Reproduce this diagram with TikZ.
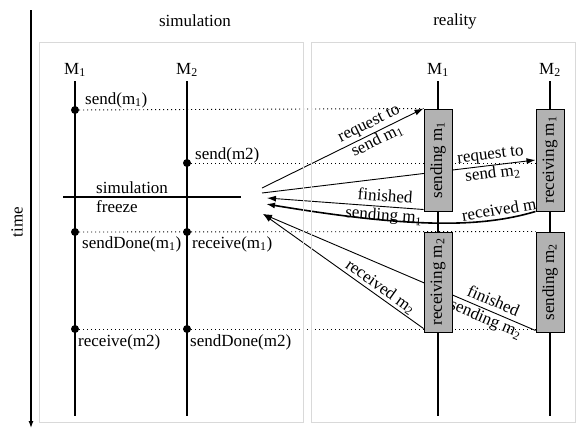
\documentclass[tikz,border=0pt]{standalone}
\usepackage{fontspec}
\setmainfont{Liberation Serif}
\usetikzlibrary{arrows.meta,backgrounds}

\begin{document}
\begin{tikzpicture}[x=1pt,y=-1pt,font=\fontsize{17}{19}\selectfont,
  frame/.style={draw=black!15,line width=0.8pt},
  event/.style={circle,fill,inner sep=0pt,minimum size=8pt},
  msg/.style={dash pattern=on 1pt off 3pt,line width=0.9pt},
  activity/.style={draw,fill=black!30,line width=1pt,minimum width=28pt,inner sep=0pt},
  call/.style={line width=0.9pt,-{Latex[length=9pt,width=6pt]}},
  reply/.style={line width=0.9pt,{Latex[length=9pt,width=6pt]}-}]
  \useasboundingbox (0,0) rectangle (579,429);
  \draw[frame] (39,42) rectangle (303,422);
  \draw[frame] (311,42) rectangle (575,422);
  \node (simtitle) at (195,21) {simulation};
  \node (realtitle) at (455,21) {reality};
  \coordinate (timetop) at (31,10);
  \coordinate (timebot) at (31,428);
  \draw[line width=1.2pt,-{Latex[length=7pt,width=5pt]}] (timetop) -- (timebot);
  \node[rotate=90] (time) at (17,222) {time};
  \foreach \name/\x/\i/\w in {simA/75/1/2pt,simB/187/2/2pt,realA/438/1/1.5pt,realB/550/2/1.5pt}{
    \node[inner sep=0pt] (\name) at (\x,70) {M\textsubscript{\i}};
    \coordinate (\name end) at (\x,416);
    \draw[line width=\w] (\x,81) -- (\name end);
  }
  \node[activity,minimum height=102pt] (sendingA) at (438,160) {\rotatebox{90}{sending m\textsubscript{1}}};
  \node[activity,minimum height=102pt] (receivingA) at (550,160) {\rotatebox{90}{receiving m\textsubscript{1}}};
  \node[activity,minimum height=100pt] (receivingB) at (438,282) {\rotatebox{90}{receiving m\textsubscript{2}}};
  \node[activity,minimum height=100pt] (sendingB) at (550,282) {\rotatebox{90}{sending m\textsubscript{2}}};
  \foreach \name/\x/\y in {sendA/75/110,sendB/187/163,doneA/75/232,recvA/187/232,recvB/75/329,doneB/187/329}{
    \node[event] (\name) at (\x,\y) {};
  }
  \node[anchor=west,inner sep=0pt] (sendAtext) at (85,100) {send(m\textsubscript{1})};
  \node[anchor=west,inner sep=0pt] (sendBtext) at (195,155) {send(m2)};
  \node[anchor=west,inner sep=0pt] (doneAtext) at (82,244) {sendDone(m\textsubscript{1})};
  \node[anchor=west,inner sep=0pt] (recvAtext) at (192,244) {receive(m\textsubscript{1})};
  \node[anchor=west,inner sep=0pt] (recvBtext) at (78,342) {receive(m2)};
  \node[anchor=west,inner sep=0pt] (doneBtext) at (190,342) {sendDone(m2)};
  \coordinate (freezeL) at (63,197);
  \coordinate (freezeR) at (241,197);
  \draw[line width=2.5pt] (freezeL) -- (freezeR);
  \node[anchor=west,align=left,inner sep=0pt] (freeze) at (96,197) {simulation\\freeze};
  \foreach \name/\x/\y in {hubA/262/188,hubB/262/193,hubC/267/198,hubD/266/204,hubE/263/214}{
    \coordinate (\name) at (\x,\y);
  }
  \begin{pgfonlayer}{background}
  \draw[msg] (sendA) -- (sendingA.north west);
  \draw[msg] (sendB) -- (sendB -| receivingA.west);
  \draw[msg] (doneA) -- (sendingB.north west);
  \draw[msg] (recvB) -- (recvB -| sendingB.west);
  \draw[call] (hubA) -- node[sloped,align=center,pos=0.69] {request to\\send m\textsubscript{1}} (sendingA.north west);
  \draw[call] (hubB) -- node[sloped,align=center,pos=0.84] {request to\\send m\textsubscript{2}} (receivingA.west);
  \draw[reply] (hubC) -- node[sloped,align=center,pos=0.75] {finished\\sending m\textsubscript{1}} ([yshift=2pt]sendingA.south west);
  \draw[reply,line width=1.6pt] (hubD) .. controls (410,228) and (480,228) .. node[sloped,above,pos=0.82,inner sep=1pt] {received m\textsubscript{1}} (receivingA.south west);
  \draw[reply] (hubE) -- node[sloped,align=center,pos=0.83] {finished\\sending m\textsubscript{2}} ([yshift=2pt]sendingB.south west);
  \draw[reply] (hubE) -- node[sloped,above,pos=0.7,inner sep=1pt] {received m\textsubscript{2}} ([yshift=4pt]receivingB.south west);
  \end{pgfonlayer}
\end{tikzpicture}
\end{document}
